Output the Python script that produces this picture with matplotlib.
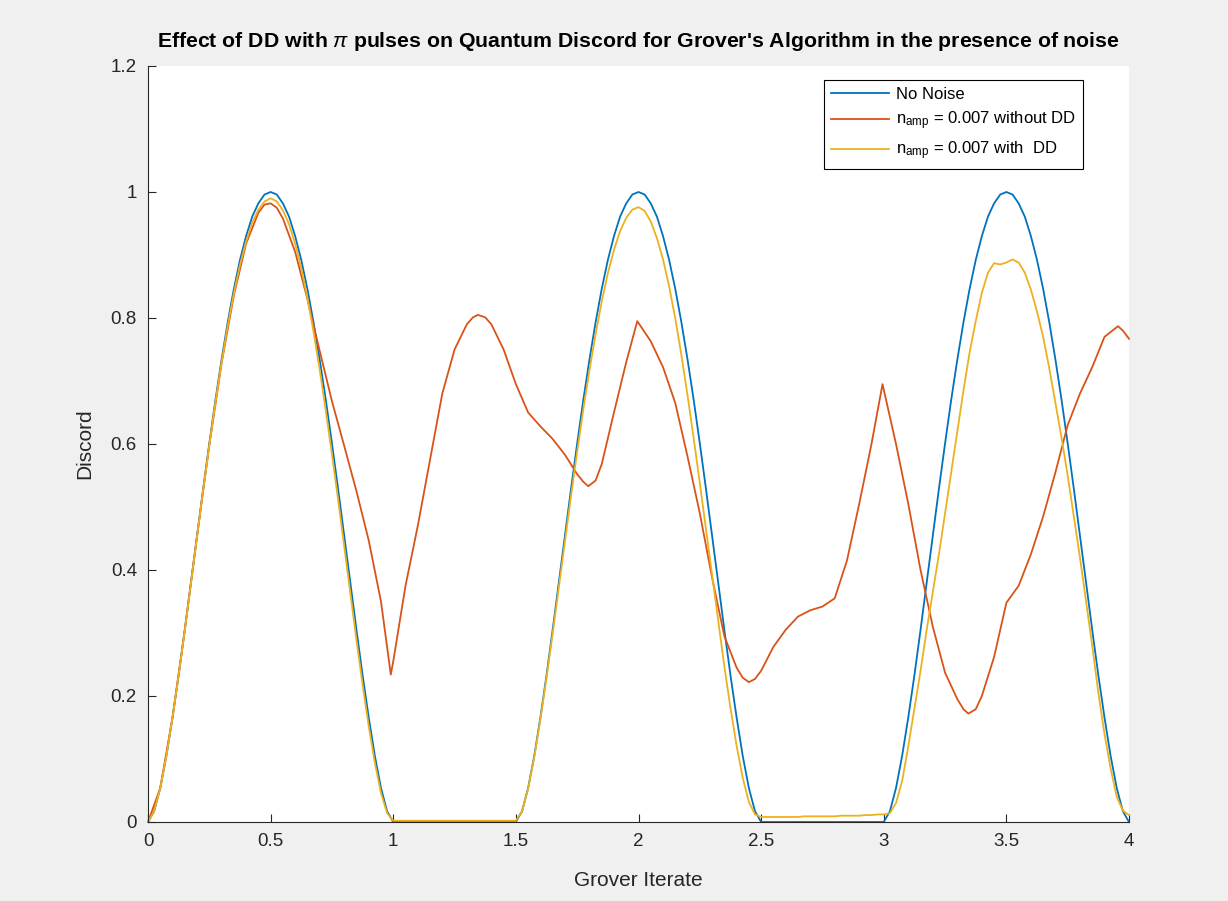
import numpy as np
import matplotlib
matplotlib.use("Agg")
import matplotlib.pyplot as plt

# ---------------- data ----------------
grid_x = np.linspace(0, 4, 161)  # step 0.025

no_noise = [
    0, 0.017, 0.054, 0.105, 0.166, 0.233, 0.305, 0.380, 0.455, 0.529, 0.601, 0.670, 0.734, 0.793, 0.846, 0.892, 0.930, 0.961, 0.982, 0.996,
    1.0, 0.996, 0.982, 0.961, 0.930, 0.892, 0.846, 0.793, 0.734, 0.670, 0.601, 0.529, 0.455, 0.380, 0.305, 0.233, 0.166, 0.105, 0.054, 0.017, 0,
    0, 0, 0, 0, 0, 0, 0, 0, 0, 0, 0, 0, 0, 0, 0, 0, 0, 0, 0,
    0, 0.017, 0.054, 0.105, 0.166, 0.233, 0.305, 0.380, 0.455, 0.529, 0.601, 0.670, 0.734, 0.793, 0.846, 0.892, 0.930, 0.961, 0.982, 0.996,
    1.0, 0.996, 0.982, 0.961, 0.930, 0.892, 0.846, 0.793, 0.734, 0.670, 0.601, 0.529, 0.455, 0.380, 0.305, 0.233, 0.166, 0.105, 0.054, 0.017, 0,
    0, 0, 0, 0, 0, 0, 0, 0, 0, 0, 0, 0, 0, 0, 0, 0, 0, 0, 0,
    0, 0.017, 0.054, 0.105, 0.166, 0.233, 0.305, 0.380, 0.455, 0.529, 0.601, 0.670, 0.734, 0.793, 0.846, 0.892, 0.930, 0.961, 0.982, 0.996,
    1.0, 0.996, 0.982, 0.961, 0.930, 0.892, 0.846, 0.793, 0.734, 0.670, 0.601, 0.529, 0.455, 0.380, 0.305, 0.233, 0.166, 0.105, 0.054, 0.017, 0,
]

with_dd = [
    0, 0.017, 0.054, 0.105, 0.166, 0.233, 0.304, 0.379, 0.453, 0.527, 0.598, 0.666, 0.729, 0.787, 0.839, 0.884, 0.921, 0.951, 0.972, 0.985,
    0.990, 0.985, 0.971, 0.949, 0.918, 0.879, 0.832, 0.778, 0.718, 0.653, 0.584, 0.512, 0.438, 0.363, 0.289, 0.218, 0.152, 0.094, 0.046, 0.014, 0.002,
    0.002, 0.002, 0.002, 0.002, 0.002, 0.002, 0.002, 0.002, 0.002, 0.002, 0.002, 0.002, 0.002, 0.002, 0.002, 0.002, 0.002, 0.002, 0.002,
    0.002, 0.017, 0.053, 0.103, 0.163, 0.229, 0.299, 0.372, 0.446, 0.518, 0.588, 0.655, 0.717, 0.774, 0.826, 0.871, 0.908, 0.938, 0.959, 0.972,
    0.976, 0.970, 0.953, 0.927, 0.893, 0.850, 0.799, 0.741, 0.677, 0.609, 0.538, 0.465, 0.391, 0.318, 0.247, 0.181, 0.121, 0.070, 0.032, 0.012, 0.008,
    0.008, 0.008, 0.008, 0.008, 0.008, 0.008, 0.009, 0.009, 0.009, 0.009, 0.009, 0.009, 0.010, 0.010, 0.010, 0.010, 0.011, 0.011, 0.012,
    0.012, 0.014, 0.030, 0.065, 0.120, 0.180, 0.240, 0.305, 0.365, 0.425, 0.490, 0.555, 0.620, 0.685, 0.745, 0.795, 0.840, 0.872, 0.887, 0.885,
    0.888, 0.893, 0.888, 0.872, 0.845, 0.810, 0.770, 0.720, 0.665, 0.610, 0.550, 0.485, 0.420, 0.350, 0.280, 0.205, 0.140, 0.085, 0.040, 0.018, 0.011,
]

without_dd_x = [0, 0.05, 0.1, 0.15, 0.2, 0.25, 0.3, 0.35, 0.4, 0.45, 0.475, 0.5, 0.525, 0.55, 0.6, 0.65, 0.68, 0.7,
                0.75, 0.8, 0.85, 0.9, 0.95, 0.99, 1.0, 1.05, 1.1, 1.15, 1.2, 1.25, 1.3, 1.325, 1.345, 1.375, 1.4, 1.45, 1.5, 1.55,
                1.6, 1.65, 1.7, 1.75, 1.775, 1.795, 1.825, 1.85, 1.9, 1.95, 1.995, 2.05, 2.1, 2.15, 2.2, 2.25, 2.3, 2.35, 2.4,
                2.425, 2.45, 2.475, 2.5, 2.55, 2.6, 2.65, 2.7, 2.75, 2.8, 2.85, 2.9, 2.95, 2.995, 3.05, 3.1, 3.15, 3.2, 3.25,
                3.3, 3.325, 3.345, 3.375, 3.4, 3.45, 3.5, 3.55, 3.6, 3.65, 3.7, 3.75, 3.8, 3.85, 3.9, 3.955, 3.975, 4.0]
without_dd_y = [0, 0.054, 0.166, 0.305, 0.454, 0.598, 0.728, 0.836, 0.918, 0.967, 0.98, 0.982, 0.975, 0.958, 0.905, 0.83, 0.78, 0.748,
                0.668, 0.597, 0.525, 0.447, 0.35, 0.234, 0.255, 0.375, 0.47, 0.575, 0.68, 0.75, 0.79, 0.801, 0.805, 0.801, 0.79, 0.75, 0.695, 0.65,
                0.628, 0.608, 0.583, 0.552, 0.54, 0.533, 0.542, 0.568, 0.65, 0.73, 0.795, 0.763, 0.722, 0.665, 0.58, 0.49, 0.388, 0.295, 0.245,
                0.229, 0.222, 0.227, 0.24, 0.278, 0.305, 0.326, 0.336, 0.342, 0.355, 0.415, 0.505, 0.6, 0.695, 0.6, 0.505, 0.40, 0.31, 0.237,
                0.195, 0.179, 0.172, 0.179, 0.2, 0.262, 0.348, 0.375, 0.425, 0.485, 0.555, 0.63, 0.68, 0.722, 0.77, 0.787, 0.78, 0.767]

series_labels = ["No Noise",
                 r"n$_{\mathrm{amp}}$ = 0.007 without DD",
                 r"n$_{\mathrm{amp}}$ = 0.007 with  DD"]
x_ticks = [0, 0.5, 1, 1.5, 2, 2.5, 3, 3.5, 4]
x_tick_labels = ["0", "0.5", "1", "1.5", "2", "2.5", "3", "3.5", "4"]
y_ticks = [0, 0.2, 0.4, 0.6, 0.8, 1.0, 1.2]
y_tick_labels = ["0", "0.2", "0.4", "0.6", "0.8", "1", "1.2"]

# ---------------- style ----------------
plt.rcParams['font.family'] = ['Liberation Sans', 'DejaVu Sans']
plt.rcParams['mathtext.fontset'] = 'custom'
plt.rcParams['mathtext.rm'] = 'Liberation Sans'
plt.rcParams['mathtext.it'] = 'Liberation Sans:italic'

axis_col = '#262626'
c_blue, c_orange, c_yellow = '#0072BD', '#D95319', '#EDB120'

fig = plt.figure(figsize=(12.28, 9.01), dpi=100, facecolor='#f0f0f0')
ax = fig.add_axes([148/1228, 1-822/901, (1129-148)/1228, (822-66)/901])
ax.set_facecolor('white')

ax.plot(grid_x, no_noise, color=c_blue, lw=1.3, label=series_labels[0], clip_on=False)
ax.plot(without_dd_x, without_dd_y, color=c_orange, lw=1.3, label=series_labels[1], clip_on=False)
ax.plot(grid_x, with_dd, color=c_yellow, lw=1.3, label=series_labels[2], clip_on=False)

ax.set_xlim(0, 4)
ax.set_ylim(0, 1.2)
ax.set_xticks(x_ticks)
ax.set_xticklabels(x_tick_labels)
ax.set_yticks(y_ticks)
ax.set_yticklabels(y_tick_labels)

for s in ['top', 'right']:
    ax.spines[s].set_visible(False)
for s in ['left', 'bottom']:
    ax.spines[s].set_color(axis_col)
    ax.spines[s].set_linewidth(0.8)
ax.tick_params(direction='in', length=6, width=0.8, colors=axis_col, labelsize=13.5, pad=8)

ax.set_xlabel('Grover Iterate', fontsize=15, color=axis_col, labelpad=15)
ax.set_ylabel('Discord', fontsize=15, color=axis_col, labelpad=12)
ax.set_title(r"Effect of DD with $\pi$ pulses on Quantum Discord for Grover's Algorithm in the presence of noise",
             fontsize=15.3, fontweight='bold', color='black', pad=14)

leg = ax.legend(loc='upper right', bbox_to_anchor=(0.953, 0.981), borderaxespad=0,
                fancybox=False, edgecolor='black', framealpha=1, fontsize=12,
                handlelength=3.5, handletextpad=0.4, borderpad=0.4, labelspacing=0.45)
leg.get_frame().set_linewidth(0.8)

fig.savefig('out.png', dpi=100, facecolor=fig.get_facecolor())
